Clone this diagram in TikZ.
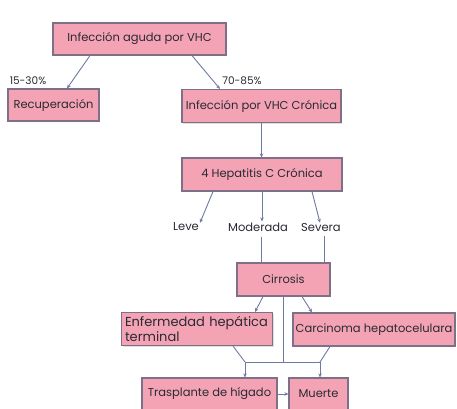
\documentclass[tikz,border=0pt]{standalone}
\usepackage{fontspec}
\setmainfont{Poppins}
\usetikzlibrary{arrows.meta,shadows}
\definecolor{boxfill}{HTML}{F4A3B5}
\definecolor{boxline}{HTML}{7E7088}
\definecolor{conn}{HTML}{6E7BA0}
\definecolor{txt}{HTML}{2A2A35}
\begin{document}
\begin{tikzpicture}[x=1pt,y=-1pt,
  box/.style={draw=boxline,line width=1.1pt,fill=boxfill,inner sep=0pt,
    text=txt,font=\fontsize{11.5}{13}\selectfont,
    drop shadow={opacity=0.25,shadow xshift=1pt,shadow yshift=-1pt}},
  lbl/.style={inner sep=1pt,text=txt,font=\fontsize{11.5}{13}\selectfont},
  pct/.style={inner sep=1pt,text=txt,font=\fontsize{10.5}{12}\selectfont},
  arr/.style={draw=conn,line width=0.9pt,-{Stealth[length=4pt,width=3.5pt]}},
  ln/.style={draw=conn,line width=0.9pt}]
\useasboundingbox[fill=white] (0,0) rectangle (457,408);
\node[box,minimum width=173pt,minimum height=32pt] (b1) at (139.5,39) {Infección aguda por VHC};
\node[box,minimum width=91pt,minimum height=32pt] (rec) at (53.5,105) {Recuperación};
\node[box,minimum width=159pt,minimum height=33pt] (cron) at (261.5,106) {Infección por VHC Crónica};
\node[box,minimum width=160pt,minimum height=33pt] (hep) at (262,174.5) {4 Hepatitis C Crónica};
\node[pct] (p1) at (28,81) {15-30\%};
\node[pct] (p2) at (242,81) {70-85\%};
\node[lbl] (leve) at (186,227) {Leve};
\node[lbl] (mod) at (258,227) {Moderada};
\node[lbl] (sev) at (321,227) {Severa};
\node[box,minimum width=93pt,minimum height=33pt] (cir) at (283.5,279.5) {Cirrosis};
\node[box,minimum width=151pt,minimum height=33pt,align=left,text width=144pt,
  font=\fontsize{13}{11}\selectfont] (enf) at (197,329) {Enfermedad hepática\\terminal};
\node[box,minimum width=162pt,minimum height=33pt] (car) at (374,329.5) {Carcinoma hepatocelulara};
\node[box,minimum width=135pt,minimum height=32pt] (tra) at (209.5,394) {Trasplante de hígado};
\node[box,minimum width=59pt,minimum height=32pt] (mue) at (318.5,394) {Muerte};
\coordinate (jl) at (245,362);
\coordinate (jr) at (320,362);
\coordinate (jc) at (283.5,362);
% connectors
\draw[arr] ([xshift=-49.5pt]b1.south) -- ([xshift=13.5pt]rec.north);
\draw[arr] ([xshift=52.5pt]b1.south) -- ([xshift=-41.5pt]cron.north);
\draw[arr] (cron.south) -- (cron.south |- hep.north);
\draw[arr] ([xshift=-49pt]hep.south) -- ([xshift=14pt,yshift=-1pt]leve.north);
\draw[arr] (hep.south) -- (hep.south |- mod.north);
\draw[arr] ([xshift=50pt]hep.south) -- ([xshift=-1pt,yshift=-1pt]sev.north);
\draw[ln] ([xshift=3pt,yshift=-4pt]mod.south) -- ([xshift=-22.5pt]cir.north);
\draw[ln] ([xshift=3pt,yshift=-4pt]sev.south) -- ([xshift=40.5pt]cir.north);
\draw[arr] ([xshift=-20.5pt]cir.south) -- ([xshift=58pt]enf.north);
\draw[arr] ([xshift=18.5pt]cir.south) -- ([xshift=-62pt]car.north);
\draw[ln] (cir.south) -- (jc);
\draw[ln] (jl) -- (jr);
\draw[ln] ([xshift=36pt]enf.south) -- (jl);
\draw[ln] ([xshift=-44pt]car.south) -- (jr);
\draw[arr] (jl) -- (jl |- tra.north);
\draw[arr] (jr) -- (jr |- mue.north);
\draw[arr] (tra.east) -- (mue.west);
\end{tikzpicture}
\end{document}
